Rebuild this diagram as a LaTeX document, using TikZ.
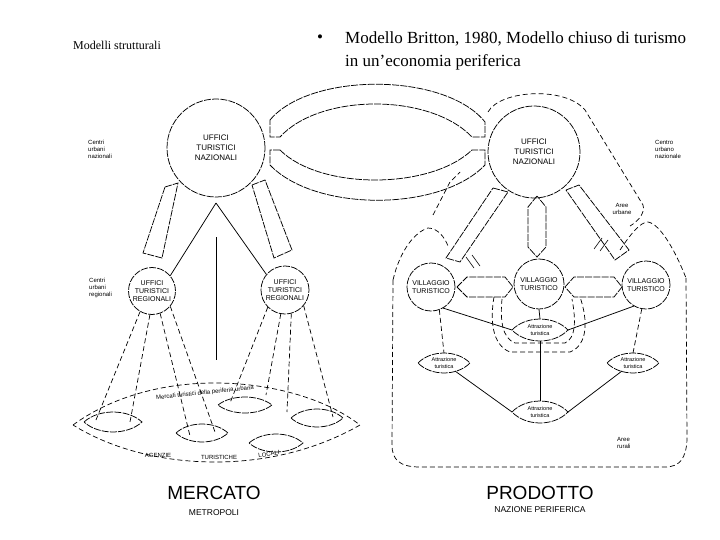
\documentclass[tikz,border=0pt]{standalone}
\usepackage{fontspec}
\setmainfont{Liberation Serif}
\newfontfamily\arial{Liberation Sans}
\usetikzlibrary{arrows.meta}
\tikzset{
  ln/.style={line width=0.75pt, dash pattern=on 7pt off 1.2pt},
  sl/.style={line width=0.75pt},
  bd/.style={line width=0.7pt, dash pattern=on 5pt off 3pt},
  hb/.style={line width=0.6pt},
  circ/.style={circle, draw, line width=0.75pt, dash pattern=on 7pt off 1.2pt, align=center, inner sep=0pt, font=\arial\fontsize{7}{8}\selectfont},
  bigc/.style={circ, font=\arial\fontsize{8}{10}\selectfont},
  tiny/.style={font=\arial\fontsize{6}{7}\selectfont, align=left, inner sep=0pt},
  lenstxt/.style={font=\arial\fontsize{5.5}{6.5}\selectfont, align=center, inner sep=0pt},
  bigt/.style={font=\arial\fontsize{19}{21}\selectfont, inner sep=0pt},
  subt/.style={font=\arial\fontsize{8.5}{10}\selectfont, inner sep=0pt},
}
\newcommand\mylens[6]{% name, cx, cy, halfwidth, halfheight, style
  \coordinate (#1-w) at ({#2-#4},#3);
  \coordinate (#1-e) at ({#2+#4},#3);
  \coordinate (#1-n) at (#2,{#3-#5});
  \coordinate (#1-s) at (#2,{#3+#5});
  \draw[#6] (#1-w) .. controls ({#2-#4/2},{#3-#5*1.33}) and ({#2+#4/2},{#3-#5*1.33}) .. (#1-e)
     .. controls ({#2+#4/2},{#3+#5*1.33}) and ({#2-#4/2},{#3+#5*1.33}) .. cycle;
}
\begin{document}
\begin{tikzpicture}[x=1pt,y=-1pt]
\useasboundingbox (0,0) rectangle (720,540);
\fill[white] (0,0) rectangle (720,540);

% header
\node[anchor=base west, font=\fontsize{12}{14}\selectfont, inner sep=0pt] (ms) at (73,50) {Modelli strutturali};
\node[anchor=base, font=\fontsize{17}{20}\selectfont, inner sep=0pt] (bul) at (320,43) {•};
\node[anchor=base west, font=\fontsize{17}{20}\selectfont, inner sep=0pt] (t1) at (345,44) {Modello Britton, 1980, Modello chiuso di turismo};
\node[anchor=base west, font=\fontsize{17}{20}\selectfont, inner sep=0pt] (t2) at (345,67) {in un’economia periferica};

% ---------------- LEFT: MERCATO ----------------
\node[bigc, minimum size=98pt] (N1) at (216,148) {UFFICI\\TURISTICI\\NAZIONALI};
\node[circ, minimum size=47pt] (R1) at (152,291) {UFFICI\\TURISTICI\\REGIONALI};
\node[circ, minimum size=48pt] (R2) at (285,290) {UFFICI\\TURISTICI\\REGIONALI};
\node[tiny, anchor=north west] (lcn) at (88,140) {Centri\\urbani\\nazionali};
\node[tiny, anchor=north west] (lcr) at (89,278) {Centri\\urbani\\regionali};

% bands national -> regional
\draw[ln] (165,187) -- (178,183) -- (162,258) -- (143,253) -- cycle;
\draw[ln] (252,185) -- (265,180) -- (292,250) -- (274,258) -- cycle;
% Lambda lines
\coordinate (ap) at (216,203);
\draw[sl] (ap) -- (R1.40);
\draw[sl] (ap) -- (R2.140);
\coordinate (vt) at (216,237);
\coordinate (vb) at (216,360);
\draw[sl] (vt) -- (vb);

% market
\coordinate (mk-w) at (73,425);
\coordinate (mk-e) at (360,425);
\draw[bd] (mk-w) .. controls (110,398) and (160,383) .. (215,383) .. controls (270,383) and (325,398) .. (mk-e)
   .. controls (320,448) and (270,462) .. (215,462) .. controls (160,462) and (110,448) .. (mk-w);
\mylens{A}{113}{422}{29}{10}{ln}
\mylens{B}{202}{433}{26}{9}{ln}
\mylens{C}{245}{405}{27}{8}{ln}
\mylens{D}{317}{418}{26}{9}{ln}
\mylens{E}{276}{443}{27}{9}{ln}
% fan lines
\draw[bd] (R1.240) -- (96,420);
\draw[bd] (R1.265) -- (130,422);
\draw[bd] (R1.290) -- (190,436);
\draw[bd] (R1.320) -- (215,432);
\draw[bd] (R2.225) -- (230,403);
\draw[bd] (R2.260) -- (266,395);
\draw[bd] (R2.285) -- (287,412);
\draw[bd] (R2.320) -- (333,417);
\node[font=\arial\fontsize{6}{7}\selectfont, rotate=6, inner sep=0pt] (mtxt) at (205,393) {Mercati turistici della periferia urbana};
\node[font=\arial\fontsize{6}{7}\selectfont, inner sep=0pt] (ag1) at (158,455) {AGENZIE};
\node[font=\arial\fontsize{6}{7}\selectfont, inner sep=0pt] (ag2) at (219,457) {TURISTICHE};
\node[font=\arial\fontsize{6}{7}\selectfont, inner sep=0pt, rotate=8] (ag3) at (269,454) {LOCALI};
\node[bigt] (merc) at (214,493) {MERCATO};
\node[subt] (metr) at (214,513) {METROPOLI};

% top bands between national offices
\draw[ln] (270,120) .. controls (310,72) and (445,72) .. (485,122) -- (485,137) -- (472,137)
   .. controls (430,93) and (320,93) .. (280,137) -- (270,137) -- cycle;
\draw[ln] (280,150) -- (270,150) -- (270,165) .. controls (315,212) and (440,212) .. (485,165)
   -- (485,150) -- (472,150) .. controls (430,190) and (320,190) .. (280,150);

% ---------------- RIGHT: PRODOTTO ----------------
\node[bigc, minimum size=92pt] (N2) at (534,152) {UFFICI\\TURISTICI\\NAZIONALI};
\node[tiny, anchor=north west] (rcn) at (655,140) {Centro\\urbano\\nazionale};
\node[tiny, anchor=center, align=center] (rau) at (622,209) {Aree\\urbane};
\node[tiny, anchor=north west] (rar) at (617,437) {Aree\\rurali};

\node[circ, minimum size=48pt] (V1) at (431,287) {VILLAGGIO\\TURISTICO};
\node[circ, minimum size=50pt] (V2) at (539,284) {VILLAGGIO\\TURISTICO};
\node[circ, minimum size=48pt] (V3) at (646,285) {VILLAGGIO\\TURISTICO};

% national -> villages
\draw[ln] (493,188) -- (508,192) -- (460,262) -- (446,258) -- cycle;
\draw[ln] (566,190) -- (579,185) -- (629,250) -- (615,260) -- cycle;
\draw[ln] (537,196) -- (528,207) -- (528,247) -- (537,257) -- (546,247) -- (546,207) -- cycle;
% horizontal double arrows
\draw[ln] (457,287) -- (467,277) -- (505,277) -- (513,287) -- (505,297) -- (467,297) -- cycle;
\draw[ln] (565,287) -- (574,277) -- (614,277) -- (622,287) -- (614,297) -- (574,297) -- cycle;

% attractions
\mylens{T0}{540}{330}{28}{11}{ln}
\mylens{TL}{444}{363}{26}{10}{ln}
\mylens{TR}{633}{363}{26}{10}{ln}
\mylens{TB}{540}{412}{28}{11}{ln}
\node[lenstxt] at (540,330) {Attrazione\\turistica};
\node[lenstxt] at (444,363) {Attrazione\\turistica};
\node[lenstxt] at (633,363) {Attrazione\\turistica};
\node[lenstxt] at (540,412) {Attrazione\\turistica};

\draw[sl] (V1.300) -- (T0-w);
\draw[sl] (T0-e) -- (V3.240);
\draw[sl] (V2.south) -- (T0-n);
\draw[sl] (T0-s) -- (TB-n);
\draw[bd] (V1.290) -- (TL-n);
\draw[bd] (V3.260) -- (TR-n);
\draw[sl] (455,371) -- (TB-w);
\draw[sl] (622,371) -- (TB-e);

% U shapes around central attraction
\draw[bd] (494,297) .. controls (490,320) and (492,345) .. (510,352) -- (570,352) .. controls (588,345) and (588,320) .. (580,297);
\draw[bd] (502,299) .. controls (500,320) and (502,338) .. (515,343) -- (565,343) .. controls (576,338) and (576,320) .. (572,299);

% boundaries
\draw[bd] (488,112) .. controls (500,90) and (565,86) .. (585,110) -- (643,205) .. controls (645,212) and (640,220) .. (630,226);
\draw[bd] (433,215) -- (450,182) -- (460,172);
\draw[bd] (393,280) .. controls (400,250) and (415,232) .. (428,228) .. controls (438,228) and (445,238) .. (448,246);
\draw[bd] (620,250) .. controls (630,235) and (640,222) .. (648,222) .. controls (660,224) and (675,250) .. (686,278);
\draw[bd] (393,280) -- (392,445) .. controls (392,460) and (400,467) .. (420,467) -- (665,467)
   .. controls (680,467) and (686,458) .. (687,440) -- (686,278);
% hatch marks
\draw[hb] (466,257) -- (474,268);
\draw[hb] (472,255) -- (480,266);
\draw[hb] (594,249) -- (602,238);
\draw[hb] (600,251) -- (608,240);

\node[bigt] (prod) at (540,493) {PRODOTTO};
\node[subt] (naz) at (540,510) {NAZIONE PERIFERICA};
\end{tikzpicture}
\end{document}
